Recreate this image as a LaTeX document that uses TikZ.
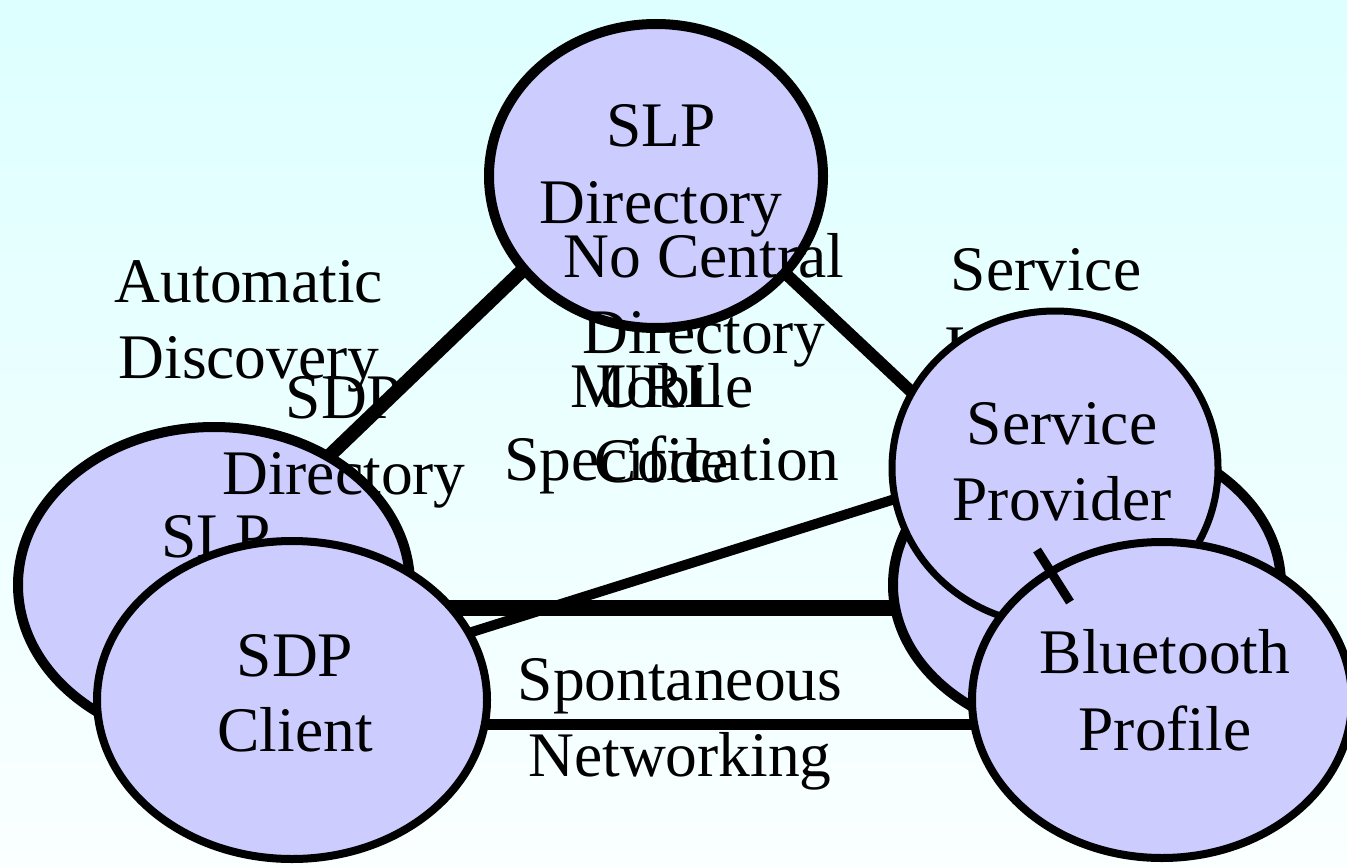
\documentclass[tikz,border=0pt]{standalone}
\usepackage{fontspec}
\setmainfont{Liberation Serif}
\usetikzlibrary{shapes.geometric}
\definecolor{bubble}{RGB}{204,204,255}
\definecolor{bgtop}{RGB}{221,255,255}
\definecolor{bgbot}{RGB}{250,255,255}
\tikzset{
  bub/.style={ellipse, draw=black, fill=bubble, inner sep=0pt},
  lbl/.style={anchor=base, inner sep=0pt, font=\fontsize{31.75}{38}\selectfont},
  link/.style={draw=black, line cap=butt}
}
\begin{document}
\begin{tikzpicture}[x=0.5pt,y=-0.5pt]
\useasboundingbox (0,0) rectangle (1347,866);
\fill[top color=bgtop, bottom color=bgbot] (0,0) rectangle (1347,866);

% label under the left connector
\node[lbl] (sdpA) at (344,418) {SDP};

% connector end points
\coordinate (a1) at (553,241);
\coordinate (b1) at (302,482);
\coordinate (a2) at (770,259);
\coordinate (e2) at (935,414);
\coordinate (c3) at (430,608);
\coordinate (d3) at (920,608);
\coordinate (c4) at (440,642);
\coordinate (e4) at (930,488);
\coordinate (c5) at (470,724);
\coordinate (f5) at (1000,724);

\draw[link, line width=7pt] (a1) -- (b1);
\draw[link, line width=6pt] (a2) -- (e2);
\draw[link, line width=8pt] (c3) -- (d3);
\draw[link, line width=5pt] (c4) -- (e4);
\draw[link, line width=5.5pt] (c5) -- (f5);

% left back ellipse
\node[bub, line width=5pt, minimum width=196pt, minimum height=158pt] (B) at (214,585) {};
\node[lbl] (slpB) at (216,557) {SLP};
% SDP client
\node[bub, line width=4pt, minimum width=195pt, minimum height=159pt] (C) at (292,700) {};
% SLP directory
\node[bub, line width=5pt, minimum width=167pt, minimum height=152pt] (A) at (656,176) {};
% right back ellipse
\node[bub, line width=5pt, minimum width=194pt, minimum height=151pt] (D) at (1087,585) {};
\node[lbl] (servA) at (1046,290) {Service};
\node[lbl, anchor=base west] (servB) at (945,369) {U};
% service provider
\node[bub, line width=3.5pt, minimum width=163pt, minimum height=157pt] (E) at (1055,468) {};
% bluetooth profile
\node[bub, line width=4pt, minimum width=190pt, minimum height=158pt] (F) at (1162,700) {};

\coordinate (t1) at (1037,550);
\coordinate (t2) at (1070,602);
\draw[link, line width=4.5pt] (t1) -- (t2);

% texts
\node[lbl] (A1) at (661,147) {SLP};
\node[lbl] (A2) at (661,223) {Directory};
\node[lbl] (N1) at (704,277) {No Central};
\node[lbl] (N2) at (704,353) {Directory};
\node[lbl] (AD1) at (249,302) {Automatic};
\node[lbl] (AD2) at (249,378) {Discovery};
\node[lbl] (sdpB) at (344,494) {Directory};
\node[lbl] (M1) at (662,407) {Mobile};
\node[lbl] (M2) at (662,482) {Code};
\node[lbl] (U1) at (660,407) {URL};
\node[lbl] (U2) at (672,480) {Specification};
\node[lbl] (E1) at (1062,444) {Service};
\node[lbl] (E2) at (1062,520) {Provider};
\node[lbl] (F1) at (1165,673) {Bluetooth};
\node[lbl] (F2) at (1165,750) {Profile};
\node[lbl] (C1) at (295,676) {SDP};
\node[lbl] (C2) at (295,751) {Client};
\node[lbl] (S1) at (680,700) {Spontaneous};
\node[lbl] (S2) at (680,776) {Networking};
\end{tikzpicture}
\end{document}
